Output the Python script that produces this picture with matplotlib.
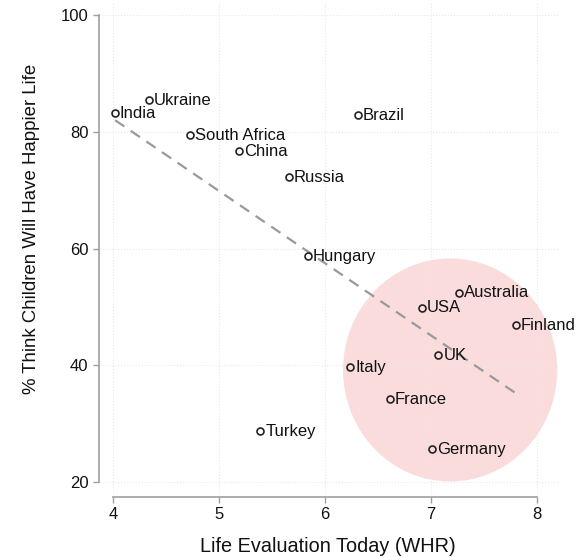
import numpy as np
import matplotlib.pyplot as plt
from matplotlib.patches import Ellipse

plt.rcParams['font.family'] = ['Liberation Sans', 'DejaVu Sans']

countries = ['India', 'Ukraine', 'South Africa', 'China', 'Russia', 'Brazil',
             'Hungary', 'Australia', 'USA', 'Finland', 'UK', 'Italy',
             'France', 'Germany', 'Turkey']
life_eval = [4.02, 4.34, 4.73, 5.19, 5.66, 6.31,
             5.84, 7.26, 6.91, 7.80, 7.07, 6.24,
             6.61, 7.01, 5.39]
pct_happier = [83.2, 85.4, 79.4, 76.7, 72.2, 82.8,
               58.7, 52.4, 49.9, 46.9, 41.7, 39.7,
               34.2, 25.6, 28.7]

x = np.array(life_eval)
y = np.array(pct_happier)

fig = plt.figure(figsize=(5.86, 5.57), dpi=100)
ax = fig.add_axes([0.1657, 0.0926, 0.787, 0.9014])
ax.set_xlim(3.85, 8.2)
ax.set_ylim(16, 102)

# highlight circle round the rich countries
ax.add_patch(Ellipse((7.18, 39.2), 2.02, 38.2, facecolor='#fadcdc',
                     edgecolor='none', zorder=0, clip_on=False))

# linear fit
k, b = np.polyfit(x, y, 1)
xf = np.array([x.min(), x.max()])
ax.plot(xf, k * xf + b, '--', color='#999999', lw=1.6, dashes=(5, 3.5), zorder=1)

ax.plot(x, y, 'o', mfc='none', mec='#222222', mew=1.2, ms=5, zorder=3)
for name, xi, yi in zip(countries, x, y):
    ax.annotate(name, (xi, yi), xytext=(3.5, 0), textcoords='offset points',
                va='center', ha='left', fontsize=12, color='#111111', zorder=4)

ax.set_xticks([4, 5, 6, 7, 8])
ax.set_yticks([20, 40, 60, 80, 100])
ax.grid(True, linestyle=':', color='#e8e8e8', lw=0.8)
ax.set_axisbelow(True)

for s in ['top', 'right']:
    ax.spines[s].set_visible(False)
ax.spines['left'].set_position(('data', 3.868))
ax.spines['bottom'].set_position(('data', 17.43))
ax.spines['left'].set_bounds(20, 100)
ax.spines['bottom'].set_bounds(4, 8)
for s in ['left', 'bottom']:
    ax.spines[s].set_color('#a0a0a0')
    ax.spines[s].set_linewidth(1.2)
ax.tick_params(direction='out', length=4, width=1, color='#a0a0a0',
               labelsize=12, labelcolor='#111111')

ax.set_xlabel('Life Evaluation Today (WHR)', fontsize=14.3, color='#111111')
ax.set_ylabel('% Think Children Will Have Happier Life', fontsize=13.4, color='#111111')
ax.xaxis.set_label_coords(0.5, -0.062)
ax.yaxis.set_label_coords(-0.124, 0.5505)

fig.savefig('out.png', dpi=100)
